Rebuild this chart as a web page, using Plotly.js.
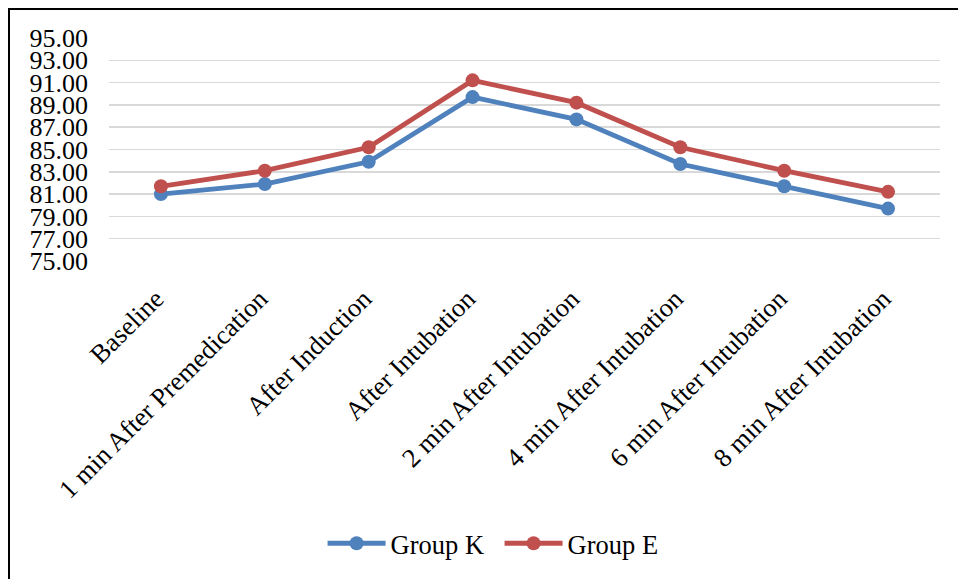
<!DOCTYPE html>
<html>
<head>
<meta charset="utf-8">
<script src="https://cdn.plot.ly/plotly-3.0.1.min.js"></script>
<style>
  html, body { margin: 0; padding: 0; background: #fff; overflow: hidden; }
  #chart { position: absolute; left: 0; top: 0; width: 958px; height: 579px; }
  #frame { position: absolute; left: 8px; top: 8px; width: 1000px; height: 1000px;
           border: 2px solid #000; pointer-events: none; box-sizing: border-box; }
</style>
</head>
<body>
<div id="chart"></div>
<div id="frame"></div>
<script>
// Time points of measurement
const timePoints = [
  "Baseline",
  "1 min After Premedication",
  "After Induction",
  "After Intubation",
  "2 min After Intubation",
  "4 min After Intubation",
  "6 min After Intubation",
  "8 min After Intubation"
];

// Mean values per group
const groupK = [81.0, 81.9, 83.9, 89.7, 87.7, 83.7, 81.7, 79.7];
const groupE = [81.7, 83.1, 85.2, 91.2, 89.2, 85.2, 83.1, 81.2];

// Y axis ticks
const yTicks = [75, 77, 79, 81, 83, 85, 87, 89, 91, 93, 95];

const FONT = "Liberation Serif, Times New Roman, serif";

function series(name, values, color) {
  return {
    type: "scatter",
    mode: "lines+markers",
    name: name,
    x: timePoints,
    y: values,
    line: { color: color, width: 4.8 },
    marker: { color: color, size: 14 },
    cliponaxis: false
  };
}

const data = [
  series("Group K", groupK, "#4F81BD"),
  series("Group E", groupE, "#C0504D")
];

const layout = {
  width: 958,
  height: 579,
  margin: { l: 109, r: 18, t: 38, b: 316 },
  paper_bgcolor: "#fff",
  plot_bgcolor: "#fff",
  font: { family: FONT, size: 26, color: "#000" },
  showlegend: true,
  legend: {
    orientation: "h",
    x: 0.470, xanchor: "center",
    y: -1.267, yanchor: "middle",
    font: { family: FONT, size: 26.5, color: "#000" },
    itemwidth: 58,
    entrywidth: 104,
    entrywidthmode: "pixels",
    tracegroupgap: 0
  },
  xaxis: {
    type: "category",
    range: [-0.5, 7.5],
    tickangle: -45,
    ticks: "",
    showgrid: false,
    showline: false,
    zeroline: false,
    ticklabelstandoff: 16,
    ticklabelshift: -5,
    tickfont: { family: FONT, size: 26.5, color: "#000" }
  },
  yaxis: {
    range: [75, 95],
    tickvals: yTicks,
    tickformat: ".2f",
    ticks: "",
    showgrid: true,
    gridcolor: "#D9D9D9",
    gridwidth: 1.5,
    zeroline: false,
    showline: false,
    ticklabelstandoff: 20,
    tickfont: { family: FONT, size: 26, color: "#000" }
  }
};

Plotly.newPlot("chart", data, layout, { displayModeBar: false, staticPlot: true });
</script>
</body>
</html>
